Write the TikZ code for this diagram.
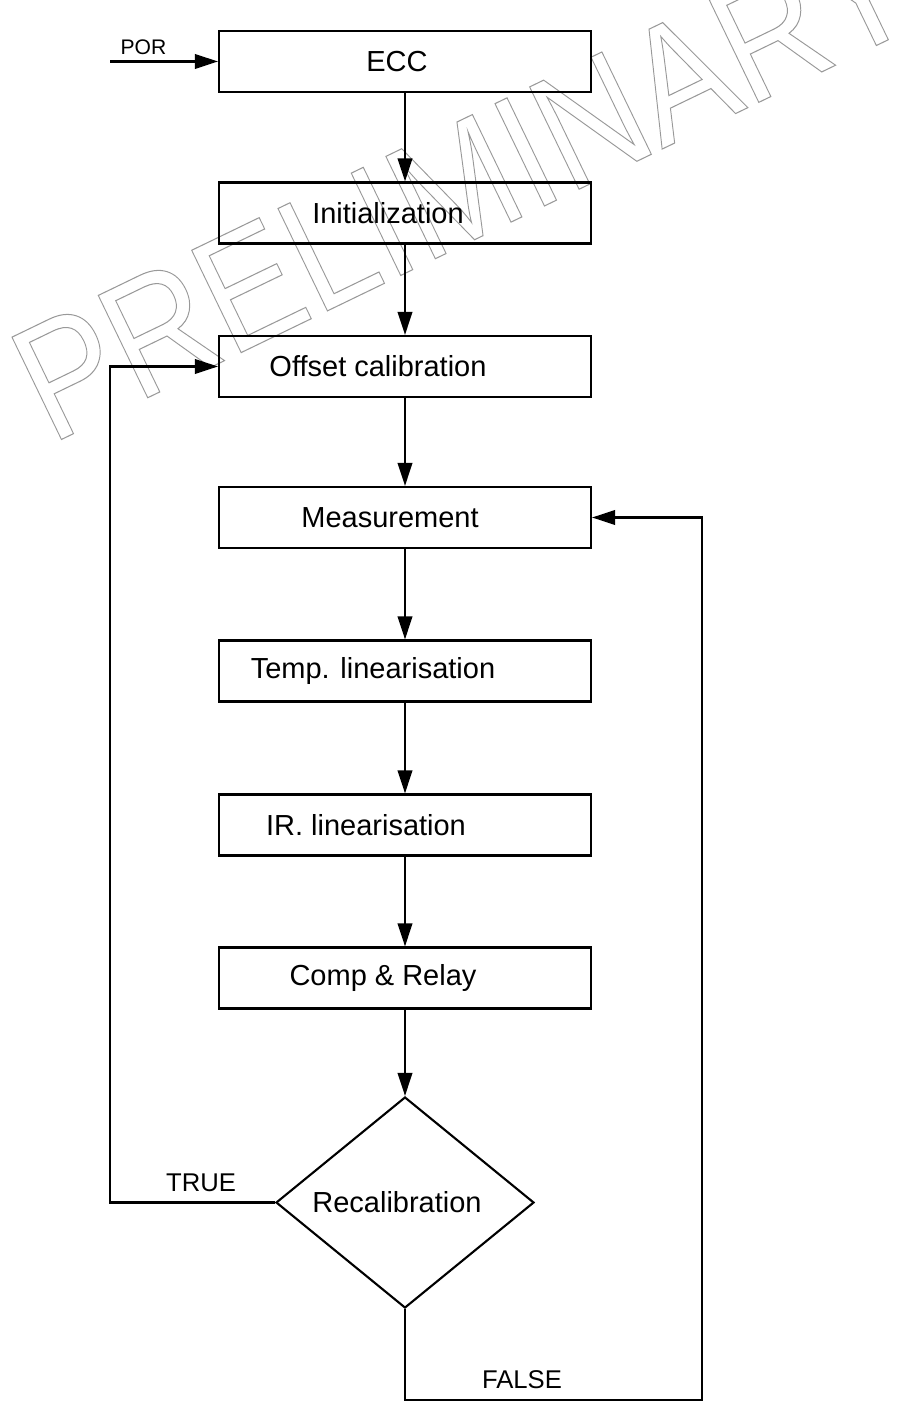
\documentclass[tikz,border=0pt]{standalone}
\usepackage{fontspec}
\setmainfont{Liberation Sans}
\usepackage{tikz}
\usetikzlibrary{arrows.meta, shapes.geometric, positioning}
\newcommand{\outlined}[1]{\special{pdf:literal direct 1 Tr 0.3 w}#1\special{pdf:literal direct 0 Tr}}

\begin{document}
\begin{tikzpicture}[>={Triangle[length=2.3mm,width=1.45mm]}, line width=0.6pt,
	procbox/.style={draw, minimum width=3.72cm, minimum height=0.61cm, inner sep=0pt, font=\fontsize{8.25pt}{10pt}\selectfont},
	decision/.style={draw, diamond, aspect=1.22, minimum width=2.58cm, minimum height=2.11cm, inner sep=0pt, font=\fontsize{8.25pt}{10pt}\selectfont},
	lbl/.style={inner sep=0pt, font=\fontsize{7.3pt}{9pt}\selectfont},
	watermark/.style={anchor=base west, inner sep=0pt, rotate=25.8, xscale=0.87, transform shape, text=black!40, font=\fontsize{47pt}{50pt}\selectfont}]
		\useasboundingbox (0,0) rectangle (9.06,-14.01);
		\node[watermark] (prelim) at (0.50,-4.45) {\outlined{PRELIMINARY}};

		\draw (4.05,-0.615) node[procbox] (ecc) {ECC\hspace*{0.16cm}}
		(4.05,-2.13) node[procbox] (init) {Initialization\hspace*{0.34cm}}
		(4.05,-3.665) node[procbox] (offset) {Offset calibration\hspace*{0.54cm}}
		(4.05,-5.175) node[procbox] (meas) {Measurement\hspace*{0.30cm}}
		(4.05,-6.71) node[procbox] (temp) {Temp. linearisation\hspace*{0.64cm}}
		(4.05,-8.25) node[procbox] (ir) {IR. linearisation\hspace*{0.78cm}}
		(4.05,-9.78) node[procbox] (comp) {Comp \& Relay\hspace*{0.44cm}}
		(4.05,-12.025) node[decision] (recal) {Recalibration\hspace*{0.16cm}};

		\coordinate (porin) at (1.10,-0.615);
		\coordinate (truecorner) at (1.10,-12.025);
		\coordinate (falsecorner) at (4.05,-14.00);
		\coordinate (falseright) at (7.02,-14.00);

		\node[lbl, font=\fontsize{6pt}{7pt}\selectfont] (porlbl) at (1.435,-0.47) {POR};
		\node[lbl] (truelbl) at (2.01,-11.825) {TRUE};
		\node[lbl] (falselbl) at (5.22,-13.80) {FALSE};

		\draw[->] (porin) -- (ecc);
		\draw[->] (ecc) -- (init);
		\draw[->] (init) -- (offset);
		\draw[->] (offset) -- (meas);
		\draw[->] (meas) -- (temp);
		\draw[->] (temp) -- (ir);
		\draw[->] (ir) -- (comp);
		\draw[->] (comp) -- (recal);
		\draw[->] (recal.west) -- (truecorner) |- (offset.west);
		\draw[->] (recal.south) -- (falsecorner) -- (falseright) |- (meas.east);
\end{tikzpicture}
\end{document}
